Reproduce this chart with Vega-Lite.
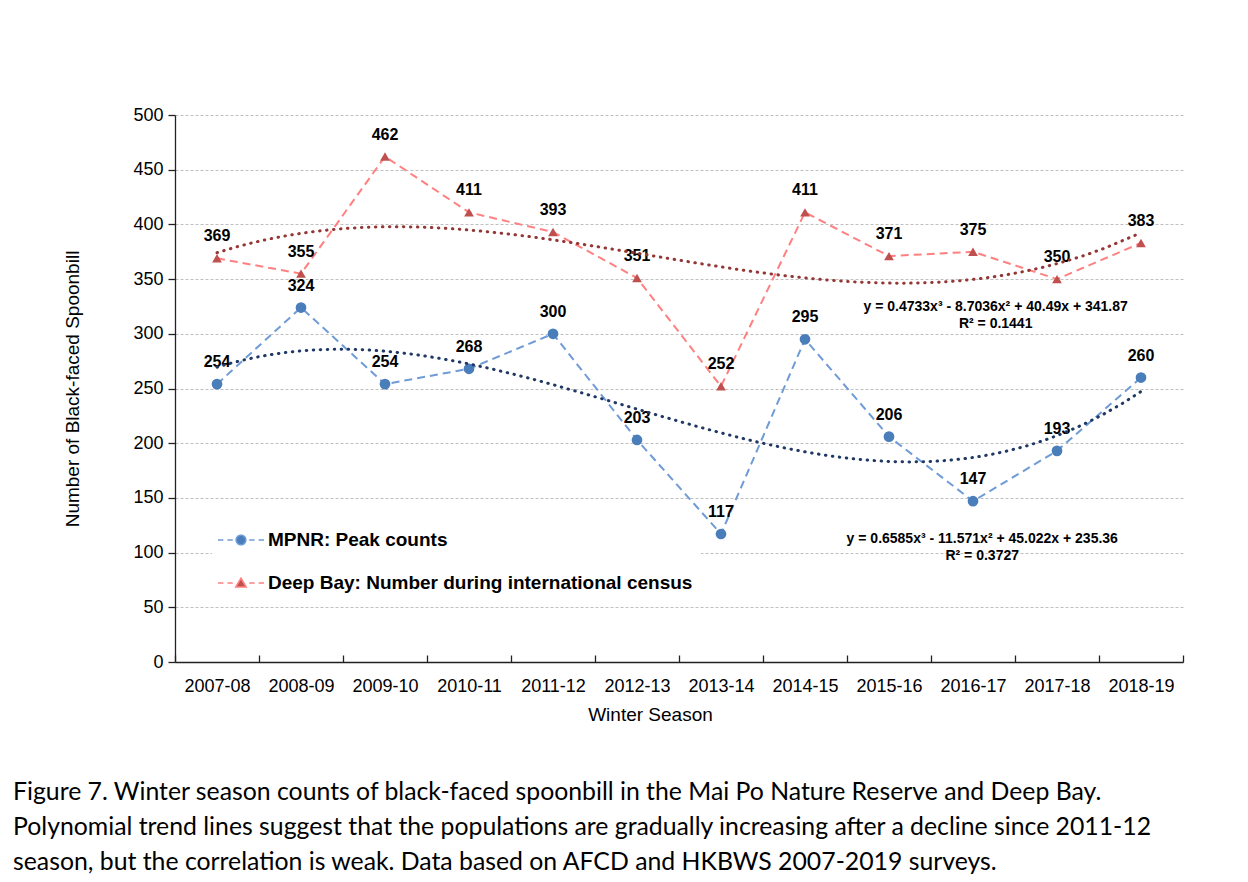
{
  "$schema": "https://vega.github.io/schema/vega-lite/v6.json",
  "width": 1008,
  "height": 547,
  "autosize": {"type": "none"},
  "padding": {"left": 175, "top": 115, "right": 65, "bottom": 220},
  "background": "white",
  "config": {
    "view": {"stroke": null},
    "font": "Liberation Sans",
    "axis": {"labelFont": "Liberation Sans", "titleFont": "Liberation Sans", "labelColor": "#000", "titleColor": "#000", "titleFontWeight": "normal", "domainColor": "#222", "tickColor": "#222"}
  },
  "title": {
    "text": [
      "Figure 7. Winter season counts of black-faced spoonbill in the Mai Po Nature Reserve and Deep Bay.",
      "Polynomial trend lines suggest that the populations are gradually increasing after a decline since 2011-12",
      "season, but the correlation is weak. Data based on AFCD and HKBWS 2007-2019 surveys."
    ],
    "orient": "bottom",
    "anchor": "start",
    "frame": "group",
    "dx": -162,
    "offset": 56,
    "font": "Lato",
    "fontSize": 24.8,
    "fontWeight": "normal",
    "lineHeight": 35,
    "color": "#000"
  },
  "datasets": {
    "counts": [
      {"season": "2007-08", "idx": 1, "series": "MPNR: Peak counts", "count": 254},
      {"season": "2008-09", "idx": 2, "series": "MPNR: Peak counts", "count": 324},
      {"season": "2009-10", "idx": 3, "series": "MPNR: Peak counts", "count": 254},
      {"season": "2010-11", "idx": 4, "series": "MPNR: Peak counts", "count": 268},
      {"season": "2011-12", "idx": 5, "series": "MPNR: Peak counts", "count": 300},
      {"season": "2012-13", "idx": 6, "series": "MPNR: Peak counts", "count": 203},
      {"season": "2013-14", "idx": 7, "series": "MPNR: Peak counts", "count": 117},
      {"season": "2014-15", "idx": 8, "series": "MPNR: Peak counts", "count": 295},
      {"season": "2015-16", "idx": 9, "series": "MPNR: Peak counts", "count": 206},
      {"season": "2016-17", "idx": 10, "series": "MPNR: Peak counts", "count": 147},
      {"season": "2017-18", "idx": 11, "series": "MPNR: Peak counts", "count": 193},
      {"season": "2018-19", "idx": 12, "series": "MPNR: Peak counts", "count": 260},
      {"season": "2007-08", "idx": 1, "series": "Deep Bay: Number during international census", "count": 369},
      {"season": "2008-09", "idx": 2, "series": "Deep Bay: Number during international census", "count": 355},
      {"season": "2009-10", "idx": 3, "series": "Deep Bay: Number during international census", "count": 462},
      {"season": "2010-11", "idx": 4, "series": "Deep Bay: Number during international census", "count": 411},
      {"season": "2011-12", "idx": 5, "series": "Deep Bay: Number during international census", "count": 393},
      {"season": "2012-13", "idx": 6, "series": "Deep Bay: Number during international census", "count": 351},
      {"season": "2013-14", "idx": 7, "series": "Deep Bay: Number during international census", "count": 252},
      {"season": "2014-15", "idx": 8, "series": "Deep Bay: Number during international census", "count": 411},
      {"season": "2015-16", "idx": 9, "series": "Deep Bay: Number during international census", "count": 371},
      {"season": "2016-17", "idx": 10, "series": "Deep Bay: Number during international census", "count": 375},
      {"season": "2017-18", "idx": 11, "series": "Deep Bay: Number during international census", "count": 350},
      {"season": "2018-19", "idx": 12, "series": "Deep Bay: Number during international census", "count": 383}
    ],
    "equations": [
      {"label": "y = 0.4733x³ - 8.7036x² + 40.49x + 341.87\nR² = 0.1441", "idx": 10.27, "count": 331},
      {"label": "y = 0.6585x³ - 11.571x² + 45.022x + 235.36\nR² = 0.3727", "idx": 10.11, "count": 119}
    ]
  },
  "resolve": {"scale": {"x": "independent"}},
  "layer": [
    {
      "data": {"name": "counts"},
      "encoding": {
        "x": {
          "field": "season", "type": "ordinal", "bandPosition": 0.5,
          "scale": {"type": "band", "paddingInner": 0, "paddingOuter": 0},
          "axis": {
            "title": "Winter Season", "titleFontSize": 19, "titlePadding": 10, "titleX": 475,
            "labelFontSize": 18, "labelAngle": 0, "labelPadding": 22,
            "tickBand": "extent", "tickSize": -7, "domainWidth": 1.3, "tickWidth": 1.3, "grid": false
          }
        },
        "y": {
          "field": "count", "type": "quantitative",
          "scale": {"domain": [0, 500]},
          "axis": {
            "title": "Number of Black-faced Spoonbill", "titleFontSize": 19, "titlePadding": 50,
            "values": [0, 50, 100, 150, 200, 250, 300, 350, 400, 450, 500],
            "labelFontSize": 18, "labelPadding": 5, "tickSize": 7, "domainWidth": 1.3, "tickWidth": 1.3,
            "grid": true, "gridColor": "#BFBFBF", "gridDash": [3, 2], "gridWidth": 1
          }
        }
      },
      "layer": [
        {
          "mark": {"type": "line", "strokeDash": [8, 5], "strokeWidth": 2},
          "encoding": {
            "color": {
              "field": "series", "type": "nominal",
              "scale": {"domain": ["MPNR: Peak counts", "Deep Bay: Number during international census"], "range": ["#6F9BD6", "#FF8080"]},
              "legend": {
                "orient": "none", "legendX": 37, "legendY": 396, "title": null,
                "padding": 8, "fillColor": "white", "rowPadding": 12,
                "symbolSize": 1600, "symbolStrokeWidth": 1.6, "labelOffset": 6,
                "labelFont": "Liberation Sans", "labelFontSize": 19, "labelFontWeight": "bold", "labelColor": "#000", "labelLimit": 700,
                "encode": {
                  "symbols": {
                    "update": {
                      "shape": {"signal": "datum.value === 'MPNR: Peak counts' ? 'M-1.15,0H-0.88M-0.68,0H-0.41M0.41,0H0.68M0.88,0H1.15M-0.24,0A0.24,0.24 0 1,0 0.24,0A0.24,0.24 0 1,0 -0.24,0Z' : 'M-1.15,0H-0.88M-0.68,0H-0.41M0.41,0H0.68M0.88,0H1.15M0,-0.24L0.26,0.2L-0.26,0.2Z'"},
                      "fill": {"signal": "datum.value === 'MPNR: Peak counts' ? '#4A7EBB' : '#C0504D'"},
                      "stroke": {"signal": "datum.value === 'MPNR: Peak counts' ? '#6F9BD6' : '#FF8080'"},
                      "strokeDash": {"value": [1, 0]},
                      "opacity": {"value": 1}
                    }
                  }
                }
              }
            }
          }
        },
        {
          "transform": [{"filter": "datum.series === 'MPNR: Peak counts'"}],
          "mark": {"type": "point", "filled": true, "opacity": 1, "size": 115, "shape": "circle", "color": "#4A7EBB"}
        },
        {
          "transform": [{"filter": "datum.series !== 'MPNR: Peak counts'"}],
          "mark": {"type": "point", "filled": true, "opacity": 1, "size": 95, "shape": "triangle-up", "color": "#C0504D"}
        },
        {
          "mark": {"type": "text", "dy": -22, "fontSize": 16, "fontWeight": "bold", "color": "#000", "font": "Liberation Sans"},
          "encoding": {"text": {"field": "count", "type": "quantitative"}}
        }
      ]
    },
    {
      "encoding": {
        "x": {"field": "idx", "type": "quantitative", "scale": {"domain": [0.5, 12.5], "nice": false, "zero": false}, "axis": null},
        "y": {"field": "count", "type": "quantitative", "scale": {"domain": [0, 500]}}
      },
      "layer": [
        {
          "data": {"name": "counts"},
          "transform": [
            {"filter": "datum.series === 'MPNR: Peak counts'"},
            {"regression": "count", "on": "idx", "method": "poly", "order": 3, "extent": [1, 12]}
          ],
          "mark": {"type": "line", "color": "#1F3864", "strokeWidth": 3, "strokeDash": [0.5, 6.5], "strokeCap": "round"}
        },
        {
          "data": {"name": "counts"},
          "transform": [
            {"filter": "datum.series !== 'MPNR: Peak counts'"},
            {"regression": "count", "on": "idx", "method": "poly", "order": 3, "extent": [1, 12]}
          ],
          "mark": {"type": "line", "color": "#943634", "strokeWidth": 3, "strokeDash": [0.5, 6.5], "strokeCap": "round"}
        },
        {
          "data": {"name": "equations"},
          "mark": {"type": "text", "align": "center", "baseline": "top", "lineBreak": "\n", "lineHeight": 17, "fontSize": 14, "fontWeight": "bold", "color": "#000", "font": "Liberation Sans"},
          "encoding": {"text": {"field": "label", "type": "nominal"}}
        }
      ]
    }
  ]
}
